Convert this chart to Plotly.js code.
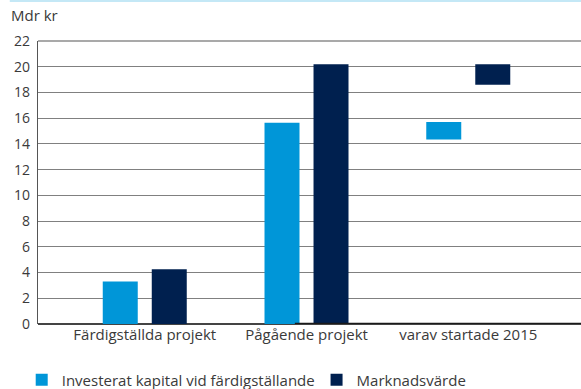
<!DOCTYPE html>
<html>
<head>
<meta charset="utf-8">
<script src="https://cdn.plot.ly/plotly-3.0.1.min.js"></script>
<style>
html,body{margin:0;padding:0;background:#fff;}
#chart{width:581px;height:389px;}
</style>
</head>
<body>
<div id="chart"></div>
<script>
var categories = ['Färdigställda projekt', 'Pågående projekt', 'varav startade 2015'];
var investLow  = [0, 0, 14.35];
var investHigh = [3.3, 15.65, 15.7];
var marketLow  = [0, 0, 18.6];
var marketHigh = [4.25, 20.2, 20.2];
var yTicks = [0, 2, 4, 6, 8, 10, 12, 14, 16, 18, 20, 22];
var seriesNames = ['Investerat kapital vid färdigställande', 'Marknadsvärde'];

function span(lo, hi) { return hi.map(function (h, i) { return h - lo[i]; }); }

var FONT = '"Open Sans", Lato, sans-serif';
var TXT = '#3a3a3a';

var traces = [
  { type: 'bar', name: seriesNames[0], x: categories, y: span(investLow, investHigh), base: investLow,
    marker: { color: '#0096d8' }, legend: 'legend' },
  { type: 'bar', name: seriesNames[1], x: categories, y: span(marketLow, marketHigh), base: marketLow,
    marker: { color: '#00204f' }, legend: 'legend2' }
];

var legendFont = { family: FONT, size: 15, color: TXT };

var layout = {
  width: 581, height: 389,
  margin: { l: 38, r: 0, t: 41, b: 65, autoexpand: false },
  paper_bgcolor: '#fff', plot_bgcolor: '#fff',
  font: { family: FONT, size: 14, color: TXT },
  barmode: 'group', bargap: 0.394, bargroupgap: 0.286,
  showlegend: true,
  legend: { orientation: 'h', x: -0.03, xanchor: 'left', y: -0.14, yanchor: 'top',
            font: legendFont, bgcolor: 'rgba(0,0,0,0)' },
  legend2: { orientation: 'h', x: 0.513, xanchor: 'left', y: -0.14, yanchor: 'top',
             font: legendFont, bgcolor: 'rgba(0,0,0,0)' },
  xaxis: { type: 'category', range: [-0.66, 2.697], showgrid: false, zeroline: false,
           showline: false, ticks: '', tickfont: { family: FONT, size: 15, color: TXT } },
  yaxis: { range: [0, 22], tickvals: yTicks, ticktext: yTicks.map(String),
           showgrid: true, gridcolor: '#808080', gridwidth: 1,
           zeroline: true, zerolinecolor: '#444', zerolinewidth: 1.5,
           showline: true, linecolor: '#555', linewidth: 1.2, mirror: false,
           ticks: '', ticklabelstandoff: 4, tickfont: { family: FONT, size: 14, color: TXT } },
  shapes: [
    { type: 'line', xref: 'paper', yref: 'paper', x0: -0.052, x1: 1, y0: 1.1413, y1: 1.1413,
      line: { color: '#c4e8f6', width: 2 } },
    { type: 'line', xref: 'paper', yref: 'paper', x0: 0, x1: 1, y0: 1, y1: 1,
      line: { color: '#555', width: 1.2 } },
    { type: 'line', xref: 'paper', yref: 'y', x0: 0.473, x1: 1, y0: 0, y1: 0,
      line: { color: '#1a1a1a', width: 2.5 } }
  ],
  annotations: [
    { text: 'Mdr kr', xref: 'paper', yref: 'paper', x: 0, y: 1, xanchor: 'left', yanchor: 'bottom',
      xshift: -29, yshift: 14, showarrow: false, font: { family: FONT, size: 15, color: TXT } }
  ]
};

Plotly.newPlot('chart', traces, layout, { staticPlot: true, displayModeBar: false });
</script>
</body>
</html>
